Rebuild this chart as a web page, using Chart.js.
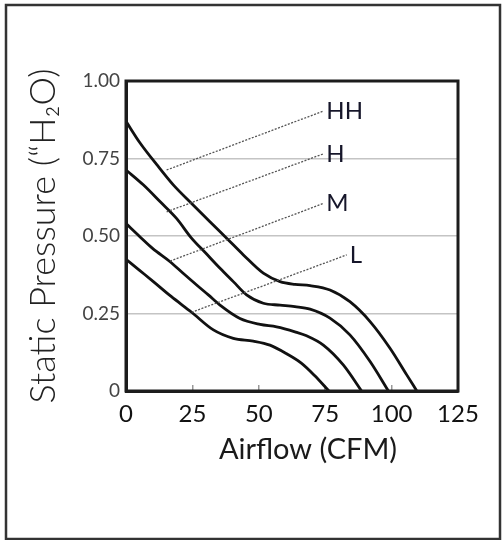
<!DOCTYPE html>
<html>
<head>
<meta charset="utf-8">
<script src="https://cdn.jsdelivr.net/npm/chart.js@4.4.0/dist/chart.umd.min.js"></script>
<style>
  html, body { margin: 0; padding: 0; background: #fff; }
  #wrap { width: 502px; height: 540px; }
</style>
</head>
<body>
<div id="wrap"><canvas id="fan-chart" width="502" height="540"></canvas></div>
<script>
const FONT = 'Lato, "DejaVu Sans", sans-serif';

// Curvas: vazão (CFM) x pressão estática ("H2O)
const airflowHH  = [0, 5.3, 11.6, 17.8, 24.7, 31.6, 37.9, 44.2, 51.7, 58, 63.6, 69.3, 76.8, 84.3, 91.9, 99.4, 105.7, 109.5];
const pressureHH = [0.87, 0.80, 0.73, 0.665, 0.605, 0.546, 0.493, 0.439, 0.38, 0.353, 0.344, 0.34, 0.326, 0.288, 0.224, 0.138, 0.052, 0];

const airflowH  = [0, 6.5, 12.8, 19.1, 24.5, 30, 35.4, 40.5, 45.4, 51.7, 58, 63.6, 69.3, 76.8, 84.3, 91.9, 98.8];
const pressureH = [0.713, 0.665, 0.611, 0.556, 0.495, 0.445, 0.396, 0.352, 0.31, 0.283, 0.277, 0.272, 0.264, 0.235, 0.181, 0.095, 0];

const airflowM  = [0, 5.3, 10, 16.6, 21.5, 26.6, 31, 35.4, 42.9, 50.5, 56.7, 63.6, 68, 74.3, 81.8, 88.7];
const pressureM = [0.54, 0.497, 0.46, 0.417, 0.38, 0.342, 0.31, 0.277, 0.234, 0.215, 0.207, 0.191, 0.178, 0.148, 0.084, 0];

const airflowL  = [0, 5, 10.3, 17, 24.7, 32.9, 40.4, 47.9, 54.2, 60.5, 66, 71, 76.4];
const pressureL = [0.425, 0.39, 0.353, 0.305, 0.254, 0.197, 0.17, 0.161, 0.148, 0.12, 0.09, 0.05, 0];

// Linhas pontilhadas que ligam cada curva ao seu rótulo
const curveNames   = ['HH', 'H', 'M', 'L'];
const leaderStartX = [15.3, 15.3, 16.6, 24.7];
const leaderStartY = [0.713, 0.578, 0.419, 0.254];
const leaderEndX   = [74.3, 74.3, 74.3, 83.1];
const leaderEndY   = [0.903, 0.765, 0.605, 0.439];

const xTicks = [0, 25, 50, 75, 100, 125];
const yTicks = [0, 0.25, 0.5, 0.75, 1];

function toPoints(xs, ys) {
  return xs.map((x, i) => ({ x: x, y: ys[i] }));
}

const curves = [
  [airflowHH, pressureHH],
  [airflowH, pressureH],
  [airflowM, pressureM],
  [airflowL, pressureL],
].map(([xs, ys], i) => ({
  label: curveNames[i],
  data: toPoints(xs, ys),
  borderColor: '#111',
  borderWidth: 2.8,
  pointRadius: 0,
  cubicInterpolationMode: 'monotone',
  fill: false,
}));

const leaders = curveNames.map((name, i) => ({
  label: name + ' leader',
  data: [
    { x: leaderStartX[i], y: leaderStartY[i] },
    { x: leaderEndX[i], y: leaderEndY[i] },
  ],
  borderColor: '#555',
  borderWidth: 1.3,
  borderDash: [2, 1.5],
  pointRadius: 0,
  fill: false,
}));

// Moldura do gráfico, rótulos das curvas e título do eixo X
const decorations = {
  id: 'decorations',
  afterDatasetsDraw(chart) {
    const { ctx, chartArea: a, scales: { x, y } } = chart;
    ctx.save();

    ctx.strokeStyle = '#1c1c1c';
    ctx.lineWidth = 3;
    ctx.strokeRect(a.left, a.top, a.right - a.left, a.bottom - a.top);

    ctx.fillStyle = '#16162a';
    ctx.font = '24px ' + FONT;
    ctx.textAlign = 'left';
    ctx.textBaseline = 'middle';
    curveNames.forEach((name, i) => {
      ctx.fillText(name, x.getPixelForValue(leaderEndX[i]) + 3, y.getPixelForValue(leaderEndY[i]));
    });

    ctx.fillStyle = '#1a1a1a';
    ctx.font = '29px ' + FONT;
    ctx.textAlign = 'center';
    ctx.fillText('Airflow (CFM)', (a.left + a.right) / 2 + 16, 450);

    ctx.strokeStyle = '#333';
    ctx.lineWidth = 2.5;
    ctx.strokeRect(6, 5, 494, 534);
    ctx.restore();
  }
};

new Chart(document.getElementById('fan-chart'), {
  type: 'line',
  data: { datasets: [...leaders, ...curves] },
  plugins: [decorations],
  options: {
    responsive: false,
    animation: false,
    layout: { padding: { left: 0, top: 81, right: 44, bottom: 0 } },
    plugins: {
      legend: { display: false },
      tooltip: { enabled: false },
    },
    scales: {
      x: {
        type: 'linear',
        min: 0,
        max: 125,
        afterFit(scale) { scale.height = 149; },
        afterBuildTicks(scale) { scale.ticks = xTicks.map(v => ({ value: v })); },
        ticks: {
          padding: 15,
          color: '#111',
          font: { family: FONT, size: 24 },
        },
        grid: { color: 'transparent', tickColor: '#999', tickLength: -6, lineWidth: 1.5 },
        border: { color: '#1c1c1c', width: 3 },
      },
      y: {
        min: 0,
        max: 1,
        afterFit(scale) { scale.width = 126; },
        afterBuildTicks(scale) { scale.ticks = yTicks.map(v => ({ value: v })); },
        ticks: {
          padding: 6,
          color: '#444',
          font: { family: FONT, size: 19 },
          callback: v => (v === 0 ? '0' : v.toFixed(2)),
        },
        grid: { color: '#c4c4c4', lineWidth: 1.5, drawTicks: false },
        border: { color: '#1c1c1c', width: 3 },
        title: {
          display: true,
          text: 'Static Pressure (“H₂O)',
          color: '#222',
          font: { family: FONT, size: 36, weight: '300' },
          padding: { top: 22, bottom: 0 },
        },
      },
    },
  },
});
</script>
</body>
</html>
